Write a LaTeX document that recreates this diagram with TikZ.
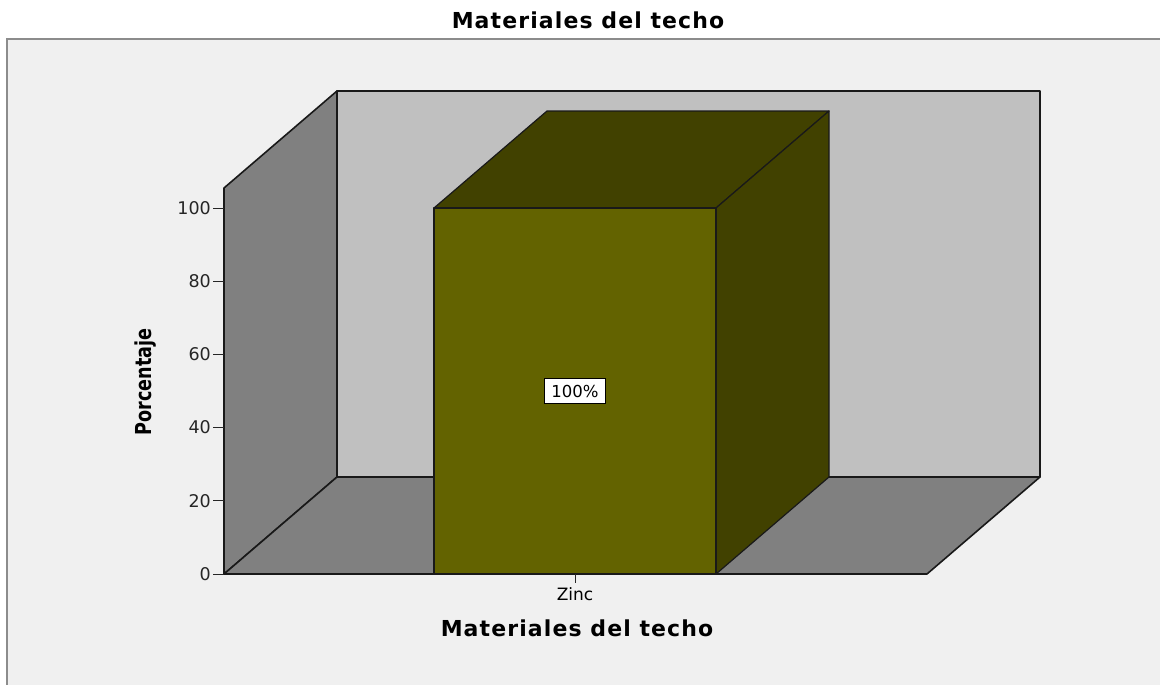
\documentclass[tikz,border=0pt]{standalone}
\usepackage{fontspec}
\setmainfont{DejaVu Sans}
\newfontfamily\spacedbold{DejaVu Sans Bold}[LetterSpace=5]
\newfontfamily\narrowbold{DejaVu Sans Bold}[FakeStretch=0.8]
\definecolor{framebg}{HTML}{F0F0F0}
\definecolor{framegray}{HTML}{8C8C8C}
\definecolor{sidewall}{HTML}{808080}
\definecolor{backwall}{HTML}{C0C0C0}
\definecolor{barfront}{HTML}{636300}
\definecolor{bardark}{HTML}{414100}
\begin{document}
\begin{tikzpicture}[x=1pt,y=-1pt,
wall/.style ={draw=black!90, line width=1.6pt, line join=round},
face/.style ={draw=black!90, line width=1.2pt, line join=round},
tick/.style ={draw=black!85, line width=1pt},
ticklabel/.style ={anchor=east, inner sep=0pt, text=black!85,
  font=\fontsize{17.5}{17.5}\selectfont
},
heading/.style ={inner sep=0pt, font=\spacedbold\fontsize{22}{22}\selectfont},
pctbox/.style ={rectangle, draw=black, fill=white, line width=1pt,
  minimum width=61pt, minimum height=25pt, inner sep=0pt,
  font=\fontsize{16.5}{16.5}\selectfont
}]
\useasboundingbox (0,0) rectangle (1160,685);
\fill[white] (0,0) rectangle (1160,685);
\fill[framebg] (7,39) rectangle (1160,685);
\draw[framegray, line width=2pt] (7,685) -- (7,39) -- (1160,39);
% walls and floor
\coordinate (fl) at (224,574);
\coordinate (bl) at (337,477);
\coordinate (br) at (1040,477);
\coordinate (fr) at (927,574);
\filldraw[wall, fill=backwall] (337,91) rectangle (br);
\filldraw[wall, fill=sidewall] (fl) -- (224,188) -- (337,91) -- (bl) -- cycle;
\filldraw[wall, fill=sidewall] (fl) -- (bl) -- (br) -- (fr) -- cycle;
% the bar
\filldraw[face, fill=bardark] (434,208) -- (547,111) -- (829,111) -- (716,208) -- cycle;
\filldraw[face, fill=bardark] (716,208) -- (829,111) -- (829,477) -- (716,574) -- cycle;
\filldraw[face, fill=barfront] (434,208) rectangle (716,574);
\draw[wall] (fl) -- (fr);
% y axis
\foreach \v in {0,20,...,100} {
  \draw[tick] (213,574-3.66*\v) -- (224,574-3.66*\v);
  \node[ticklabel] (y\v) at (211,574-3.66*\v) {\v};
}
\draw[tick] (575,574) -- (575,583);
\node (zinc) at (575,594) [inner sep=0pt, font=\fontsize{17}{17}\selectfont] {Zinc};
\node (pct) at (575,391) [pctbox] {100\%};
\node (title) at (588,20) [heading] {Materiales del techo};
\node (xtitle) at (577,628) [heading] {Materiales del techo};
\node (ytitle) at (146,382) [rotate=90, inner sep=0pt,
  font=\narrowbold\fontsize{22}{22}\selectfont] {Porcentaje};
\end{tikzpicture}
\end{document}
